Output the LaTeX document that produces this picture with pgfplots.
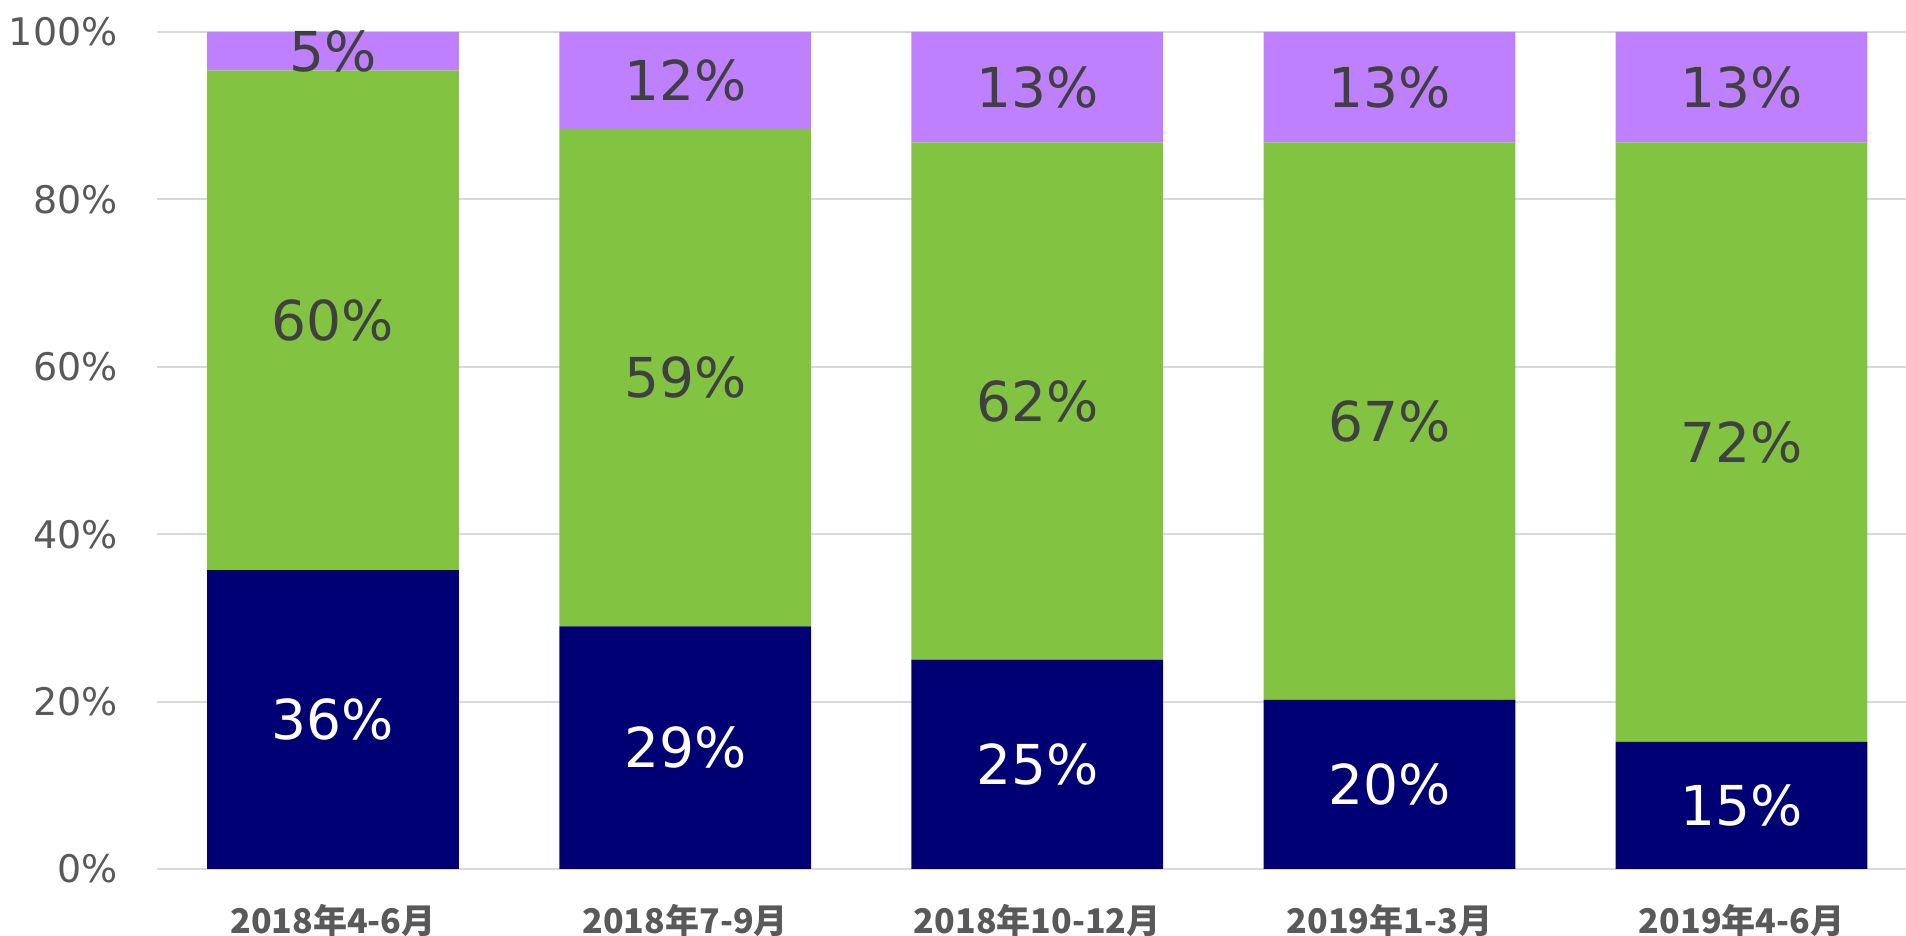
\documentclass[border=0pt]{standalone}
\usepackage{pgfplots}
\pgfplotsset{compat=1.18}
\usepackage{pgfplotstable}
\usepackage{fontspec}
\setmainfont{DejaVu Sans}
\newfontfamily\cjk{Noto Sans CJK JP}
\definecolor{navy}{HTML}{000074}
\definecolor{lgreen}{HTML}{82C341}
\definecolor{lpurple}{HTML}{BF80FF}
\definecolor{gridc}{HTML}{D9D9D9}
\definecolor{tickc}{HTML}{595959}
\definecolor{labc}{HTML}{404040}

\pgfplotstableread{
x nv g p nvl gl pl
0 35.7 59.7 4.6 36 60 5
1 29.0 59.4 11.6 29 59 12
2 25.0 61.8 13.2 25 62 13
3 20.2 66.6 13.2 20 67 13
4 15.2 71.6 13.2 15 72 13
}\data

\begin{document}
\begin{tikzpicture}
\path[use as bounding box] (-78.5bp,-33.5bp) rectangle (874.5bp,434.5bp);
\begin{axis}[
  at={(0,0)}, anchor=south west,
  scale only axis, width=874.5bp, height=418.5bp,
  ybar stacked, bar width=0.715,
  xmin=-0.5, xmax=4.467, ymin=0, ymax=100,
  xtick={0,1,2,3,4},
  xticklabels={2018年4-6月,2018年7-9月,2018年10-12月,2019年1-3月,2019年4-6月},
  ytick={0,20,40,60,80,100},
  yticklabel={\pgfmathprintnumber{\tick}\%},
  /pgf/number format/assume math mode=true,
  ymajorgrids, grid style={gridc, line width=1bp},
  axis x line*=bottom, axis y line*=left,
  x axis line style={gridc, line width=1bp, -},
  y axis line style={draw=none},
  major tick length=0pt,
  tick style={draw=none},
  yticklabel style={font=\fontsize{19bp}{21bp}\selectfont, text=tickc, inner sep=0pt, xshift=-19.5bp},
  xticklabel style={font=\cjk\bfseries\fontsize{17bp}{20bp}\selectfont, text=tickc, anchor=base, inner sep=0pt, yshift=-32bp},
  point meta=explicit symbolic,
  nodes near coords={\pgfplotspointmeta\%},
  every node near coord/.append style={anchor=center, font=\fontsize{27.5bp}{29bp}\selectfont},
]
\addplot[fill=navy, draw=none, every node near coord/.append style={text=white}] table[x=x, y=nv, meta=nvl] {\data};
\addplot[fill=lgreen, draw=none, every node near coord/.append style={text=labc}] table[x=x, y=g, meta=gl] {\data};
\addplot[fill=lpurple, draw=none, every node near coord/.append style={text=labc}] table[x=x, y=p, meta=pl] {\data};
\end{axis}
\end{tikzpicture}
\end{document}
